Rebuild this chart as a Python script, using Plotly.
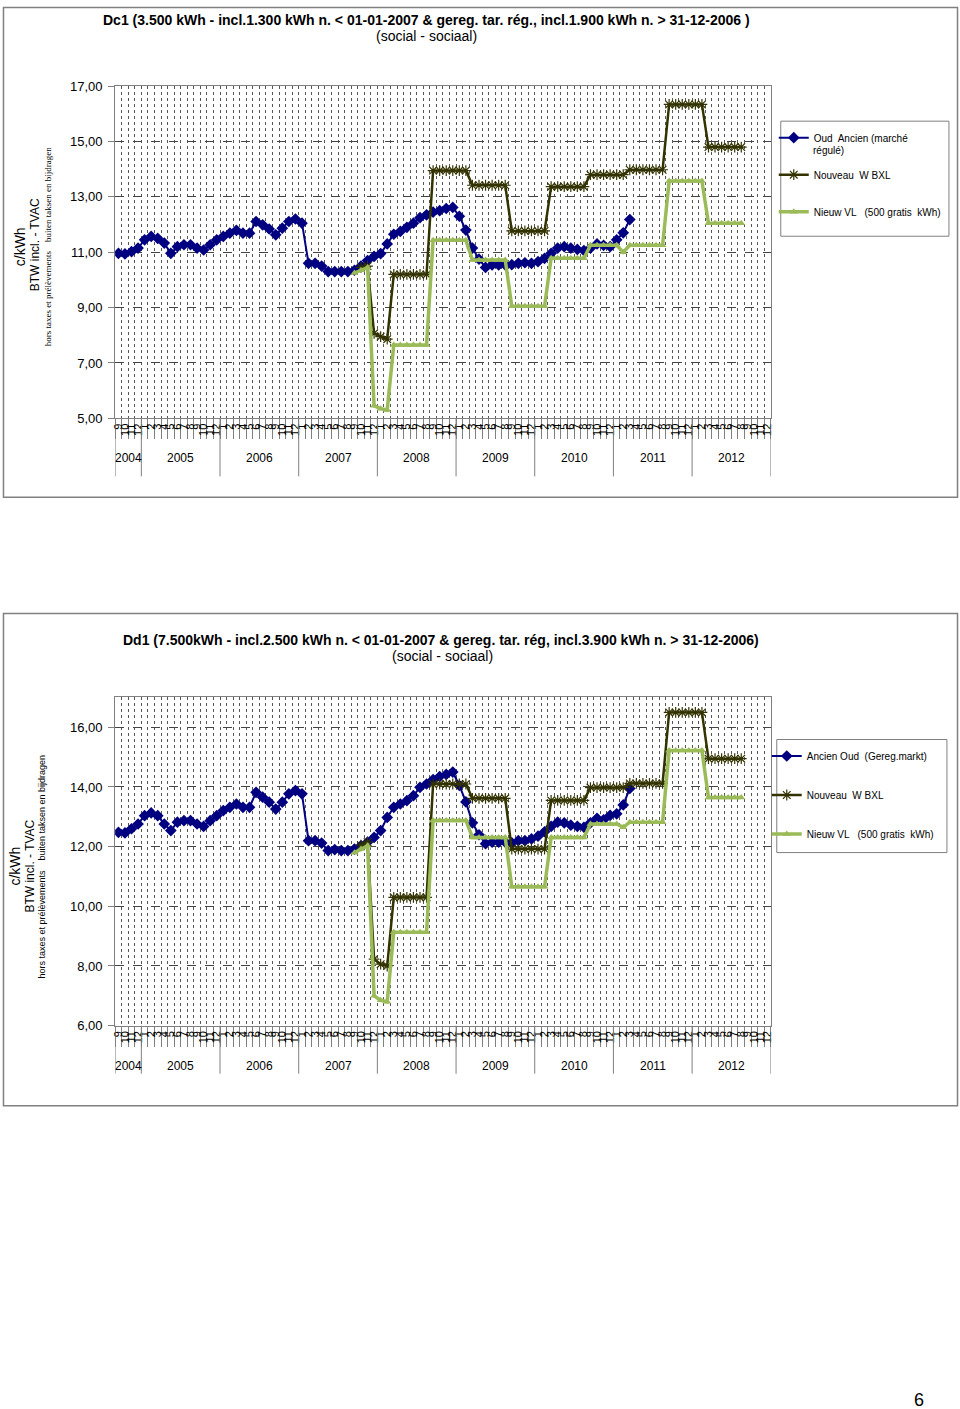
import plotly.graph_objects as go

W, H = 960, 1409
# measured placement of the page inside the returned photograph
SX, OX = 0.9938, 3.0
SY, OY = 0.9888, 7.9

# ---------------- categories ----------------
years = ["2004", "2005", "2006", "2007", "2008", "2009", "2010", "2011", "2012"]
months_per_year = [4, 12, 12, 12, 12, 12, 12, 12, 12]
month_labels = (["9", "10", "11", "12"]
                + ["1", "2", "3", "4", "5", "6", "7", "8", "9", "10", "11", "12"] * 8)

cat_years = []
for y, n in zip(years, months_per_year):
    cat_years += [y] * n
cats = [f"{y}-{m}" for y, m in zip(cat_years, month_labels)]

# ---------------- Dc1 data (c/kWh) ----------------
dc1_oud = [10.96, 10.94, 11.02, 11.15,
           11.45, 11.57, 11.50, 11.33, 10.96, 11.20, 11.27, 11.27, 11.15, 11.08, 11.27, 11.45,
           11.57, 11.69, 11.79, 11.69, 11.69, 12.11, 11.99, 11.84, 11.63, 11.87, 12.11, 12.20,
           12.05, 10.60, 10.60, 10.50, 10.30, 10.30, 10.30, 10.30, 10.35, 10.50, 10.70, 10.85,
           10.95, 11.30, 11.65, 11.75, 11.90, 12.05, 12.25, 12.35, 12.45, 12.50, 12.58, 12.62,
           12.30, 11.80, 11.15, 10.75, 10.45, 10.54, 10.54, 10.54, 10.55, 10.60, 10.62, 10.60,
           10.66, 10.78, 10.96, 11.15, 11.20, 11.15, 11.10, 11.06, 11.15, 11.30, 11.25, 11.20,
           11.45, 11.70, 12.18]
dc1_oud_start = 0

dc1_bxl = [10.45, 10.50,
           8.07, 7.95, 7.86,
           10.20, 10.20, 10.20, 10.20, 10.20, 10.20,
           13.95, 13.95, 13.95, 13.95, 13.95, 13.95,
           13.42, 13.42, 13.42, 13.42, 13.42, 13.42,
           11.77, 11.77, 11.77, 11.77, 11.77, 11.77,
           13.37, 13.37, 13.37, 13.37, 13.37, 13.37,
           13.80, 13.80, 13.80, 13.80, 13.80, 13.80,
           13.98, 13.98, 13.98, 13.98, 13.98, 13.98,
           16.34, 16.34, 16.34, 16.34, 16.34, 16.34,
           14.80, 14.80, 14.80, 14.80, 14.80, 14.80]
dc1_bxl_start = 37

dc1_vl = [10.25, 10.35, 10.45,
          5.45, 5.35, 5.30,
          7.65, 7.65, 7.65, 7.65, 7.65, 7.65,
          11.43, 11.43, 11.43, 11.43, 11.43, 11.43,
          10.72, 10.72, 10.72, 10.72, 10.72, 10.72,
          9.05, 9.05, 9.05, 9.05, 9.05, 9.05,
          10.78, 10.78, 10.78, 10.78, 10.78, 10.78,
          11.25, 11.25, 11.25, 11.25, 11.25, 11.00,
          11.25, 11.25, 11.25, 11.25, 11.25, 11.25,
          13.57, 13.57, 13.57, 13.57, 13.57, 13.57,
          12.05, 12.05, 12.05, 12.05, 12.05, 12.05]
dc1_vl_start = 36

# ---------------- Dd1 data (c/kWh) ----------------
dd1_oud = [12.48, 12.46, 12.60, 12.76,
           13.04, 13.13, 13.04, 12.76, 12.54, 12.82, 12.87, 12.87, 12.76, 12.68, 12.87, 13.04,
           13.21, 13.32, 13.43, 13.32, 13.32, 13.82, 13.66, 13.49, 13.26, 13.49, 13.77, 13.88,
           13.77, 12.20, 12.20, 12.12, 11.87, 11.90, 11.87, 11.87, 11.92, 12.03, 12.15, 12.31,
           12.54, 12.98, 13.32, 13.43, 13.54, 13.71, 13.99, 14.10, 14.25, 14.35, 14.42, 14.50,
           14.05, 13.50, 12.80, 12.40, 12.10, 12.15, 12.15, 12.15, 12.13, 12.20, 12.20, 12.26,
           12.35, 12.50, 12.68, 12.82, 12.80, 12.72, 12.68, 12.65, 12.80, 12.95, 12.90, 13.05,
           13.10, 13.40, 13.95]
dd1_oud_start = 0

dd1_bxl = [12.05, 12.15,
           8.23, 8.06, 8.00,
           10.30, 10.30, 10.30, 10.30, 10.30, 10.30,
           14.10, 14.10, 14.10, 14.10, 14.10, 14.10,
           13.62, 13.62, 13.62, 13.62, 13.62, 13.62,
           11.92, 11.92, 11.92, 11.92, 11.92, 11.92,
           13.55, 13.55, 13.55, 13.55, 13.55, 13.55,
           13.98, 13.98, 13.98, 13.98, 13.98, 13.98,
           14.12, 14.12, 14.12, 14.12, 14.12, 14.12,
           16.50, 16.50, 16.50, 16.50, 16.50, 16.50,
           14.95, 14.95, 14.95, 14.95, 14.95, 14.95]
dd1_bxl_start = 37

dd1_vl = [11.80, 11.92, 12.03,
          7.00, 6.85, 6.80,
          9.13, 9.13, 9.13, 9.13, 9.13, 9.13,
          12.88, 12.88, 12.88, 12.88, 12.88, 12.88,
          12.31, 12.31, 12.31, 12.31, 12.31, 12.31,
          10.66, 10.66, 10.66, 10.66, 10.66, 10.66,
          12.31, 12.31, 12.31, 12.31, 12.31, 12.31,
          12.76, 12.76, 12.76, 12.76, 12.76, 12.65,
          12.82, 12.82, 12.82, 12.82, 12.82, 12.82,
          15.22, 15.22, 15.22, 15.22, 15.22, 15.22,
          13.65, 13.65, 13.65, 13.65, 13.65, 13.65]
dd1_vl_start = 36

names_dc1 = ["Oud  Ancien (marché", "Nouveau  W BXL", "Nieuw VL   (500 gratis  kWh)"]
names_dd1 = ["Ancien Oud  (Gereg.markt)", "Nouveau  W BXL", "Nieuw VL   (500 gratis  kWh)"]


def pad(vals, start):
    return [None] * start + list(vals) + [None] * (len(cats) - start - len(vals))


# ---------------- styles ----------------
SANS = "Liberation Sans, Arial, sans-serif"
NARROW = "Liberation Sans Narrow, Arial Narrow, Liberation Sans, sans-serif"
SERIF = "Liberation Serif, Times New Roman, serif"
NAVY = "#000080"
DARK = "#333300"
GREEN = "#9BBB59"
GRAY = "#808080"


def px(x):
    return min(max(((x - OX) / SX) / W, 0.0005), 0.9995)


def py(y):
    return min(max(1 - ((y - OY) / SY) / H, 0.0004), 0.9996)


fig = go.Figure()


def add_series(vals_list, names, xa, ya, leg, grp):
    (oud, s0), (bxl, s1), (vl, s2) = vals_list
    fig.add_trace(go.Scatter(
        x=cats, y=pad(oud, s0), name=names[0], mode="lines+markers",
        line=dict(color=NAVY, width=2),
        marker=dict(symbol="diamond", size=9, color=NAVY),
        xaxis=xa, yaxis=ya, legend=leg, legendgroup=grp + "a"))
    fig.add_trace(go.Scatter(
        x=cats, y=pad(bxl, s1), name=names[1], mode="lines+markers",
        line=dict(color=DARK, width=2.5),
        marker=dict(symbol="asterisk-open", size=9, line=dict(color="#6b6b3a", width=1.2)),
        xaxis=xa, yaxis=ya, legend=leg, legendgroup=grp + "b"))
    fig.add_trace(go.Scatter(
        x=cats, y=pad(vl, s2), name=names[2], mode="lines+markers",
        line=dict(color=GREEN, width=3.5),
        marker=dict(symbol="triangle-up", size=7, color=GREEN),
        xaxis=xa, yaxis=ya, legend=leg, legendgroup=grp + "c"))


add_series([(dc1_oud, dc1_oud_start), (dc1_bxl, dc1_bxl_start), (dc1_vl, dc1_vl_start)],
           names_dc1, "x", "y", "legend", "g1")
add_series([(dd1_oud, dd1_oud_start), (dd1_bxl, dd1_bxl_start), (dd1_vl, dd1_vl_start)],
           names_dd1, "x2", "y2", "legend2", "g2")

xcommon = dict(
    type="category", domain=[px(115), px(770)], range=[-0.5, len(cats) - 0.5],
    tickmode="array", tickvals=cats, ticktext=month_labels, tickangle=-90,
    tickfont=dict(size=11, family=SANS, color="black"),
    tickson="boundaries", ticks="outside", ticklen=20, tickcolor=GRAY, tickwidth=1,
    ticklabelstandoff=0,
    showgrid=True, gridcolor="#555555", griddash="dot", gridwidth=1,
    showline=True, linecolor=GRAY, linewidth=1, mirror=True, zeroline=False,
)
ycommon = dict(
    tickmode="linear", dtick=2, tickformat=".2f",
    tickfont=dict(size=13, family=SANS, color="black"),
    ticks="outside", ticklen=6, tickcolor=GRAY, ticklabelstandoff=3,
    showgrid=True, gridcolor="#444444", griddash="dash", gridwidth=1,
    showline=True, linecolor=GRAY, linewidth=1, mirror=True, zeroline=False,
)

legcommon = dict(
    xanchor="left", yanchor="top", bgcolor="rgba(0,0,0,0)", borderwidth=0,
    font=dict(size=10, family=SANS, color="black"), traceorder="grouped", itemwidth=30,
)

fig.update_layout(
    width=W, height=H, margin=dict(l=0, r=0, t=0, b=0),
    paper_bgcolor="white", plot_bgcolor="white", separators=",.",
    xaxis=dict(anchor="y", **xcommon),
    xaxis2=dict(anchor="y2", **xcommon),
    yaxis=dict(anchor="x", domain=[py(419), py(87)], range=[5, 17], tick0=5, **ycommon),
    yaxis2=dict(anchor="x2", domain=[py(1026), py(698)], range=[6, 17], tick0=6, **ycommon),
    legend=dict(x=px(773), y=py(124), tracegroupgap=18, **legcommon),
    legend2=dict(x=px(766), y=py(742), tracegroupgap=20, **legcommon),
)

# ---------------- frames, titles, labels ----------------
shapes = [
    dict(type="rect", xref="paper", yref="paper", x0=px(2), x1=px(958), y0=py(498), y1=py(2),
         line=dict(color=GRAY, width=1.5)),
    dict(type="rect", xref="paper", yref="paper", x0=px(2), x1=px(958), y0=py(1106), y1=py(614),
         line=dict(color=GRAY, width=1.5)),
    # legend boxes
    dict(type="rect", xref="paper", yref="paper", x0=px(780), x1=px(948), y0=py(237), y1=py(122),
         line=dict(color=GRAY, width=1), fillcolor="white", layer="below"),
    dict(type="rect", xref="paper", yref="paper", x0=px(776), x1=px(946), y0=py(853), y1=py(740),
         line=dict(color=GRAY, width=1), fillcolor="white", layer="below"),
]
annotations = []

bounds = [-0.5]
for n in months_per_year:
    bounds.append(bounds[-1] + n)
for xa, ytop, ybot, ylab in [("x", 419, 477, 459), ("x2", 1026, 1074, 1066)]:
    for b in bounds:
        shapes.append(dict(type="line", xref=xa, yref="paper", x0=b, x1=b,
                           y0=py(ytop), y1=py(ybot), line=dict(color=GRAY, width=1)))
    for i, y in enumerate(years):
        annotations.append(dict(xref=xa, yref="paper", x=(bounds[i] + bounds[i + 1]) / 2,
                                y=py(ylab), text=y, showarrow=False,
                                xanchor="center", yanchor="middle",
                                font=dict(size=12, family=SANS, color="black")))


def ann(text, x, y, size, family=SANS, angle=0, bold=False, xanchor="center"):
    t = f"<b>{text}</b>" if bold else text
    annotations.append(dict(xref="paper", yref="paper", x=px(x), y=py(y), text=t,
                            showarrow=False, textangle=angle,
                            xanchor=xanchor, yanchor="middle",
                            font=dict(size=size, family=family, color="black")))


ann("Dc1 (3.500 kWh - incl.1.300 kWh n. &lt; 01-01-2007 &amp; gereg. tar. rég., incl.1.900 kWh n. &gt; 31-12-2006 )",
    426, 21, 14, NARROW, bold=True)
ann("(social - sociaal)", 426, 37, 14, NARROW)
ann("Dd1 (7.500kWh - incl.2.500 kWh n. &lt; 01-01-2007 &amp; gereg. tar. rég, incl.3.900 kWh n. &gt; 31-12-2006)",
    441, 641, 14, NARROW, bold=True)
ann("(social - sociaal)", 442, 657, 14, NARROW)

# second line of the first legend entry
ann("régulé)", 810, 151, 10, SANS, xanchor="left")

ann("c/kWh", 20, 248, 14, SANS, angle=-90)
ann("BTW incl. - TVAC", 35, 246, 12, SANS, angle=-90)
ann("hors taxes et prélèvements &nbsp; &nbsp;buiten taksen en bijdragen", 48, 248, 9, SERIF, angle=-90)

ann("c/kWh", 15, 867, 14, SANS, angle=-90)
ann("BTW incl. - TVAC", 30, 867, 12, SANS, angle=-90)
ann("hors taxes et prélèvements &nbsp; &nbsp;buiten taksen en bijdragen", 42, 867, 9, SANS, angle=-90)

ann("6", 918, 1400, 18, SANS)

fig.update_layout(shapes=shapes, annotations=annotations)

post = "document.body.style.margin='0';document.body.style.overflow='hidden';document.documentElement.style.overflow='hidden';"
fig.write_html("out.html", config={"displayModeBar": False}, post_script=post)
